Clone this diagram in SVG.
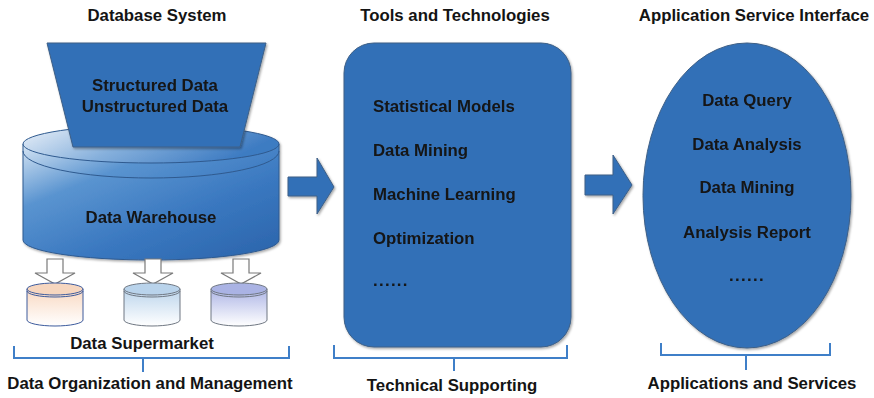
<svg xmlns="http://www.w3.org/2000/svg" width="874" height="398" viewBox="0 0 874 398">
  <style>
    .txt { font-family: "Liberation Sans", Arial, sans-serif; font-weight: bold; font-size: 16.8px; fill: #141414; }
    .mid { text-anchor: middle; }
    .blue { fill: #3370b7; stroke: #3d5f86; stroke-width: 1; }
    .brace { fill: none; stroke: #3f7fc8; stroke-width: 2; }
    .hollow { fill: #ffffff; stroke: #7a7a7a; stroke-width: 1.2; }
    .dots { letter-spacing: 1.3px; }
  </style>
  <defs>
    <filter id="shadow" x="-10%" y="-10%" width="125%" height="125%">
      <feDropShadow dx="1.2" dy="1.5" stdDeviation="1.2" flood-color="#000" flood-opacity="0.35"/>
    </filter>
    <linearGradient id="warehouseSide" x1="0" y1="0" x2="0.9" y2="1">
      <stop offset="0" stop-color="#d6e5f4"/>
      <stop offset="0.3" stop-color="#5a94d0"/>
      <stop offset="0.65" stop-color="#3a78c0"/>
      <stop offset="1" stop-color="#2c66ad"/>
    </linearGradient>
    <linearGradient id="warehouseTop" x1="0" y1="0" x2="1" y2="0.3">
      <stop offset="0" stop-color="#eef3fa"/>
      <stop offset="0.5" stop-color="#86b0dc"/>
      <stop offset="1" stop-color="#3d7bc2"/>
    </linearGradient>
    <linearGradient id="martOrange" x1="0" y1="0" x2="0" y2="1">
      <stop offset="0" stop-color="#f9d9c2"/>
      <stop offset="1" stop-color="#ffffff"/>
    </linearGradient>
    <linearGradient id="martBlue" x1="0" y1="0" x2="0" y2="1">
      <stop offset="0" stop-color="#bcd5ec"/>
      <stop offset="1" stop-color="#ffffff"/>
    </linearGradient>
    <linearGradient id="martViolet" x1="0" y1="0" x2="0" y2="1">
      <stop offset="0" stop-color="#aeb6e6"/>
      <stop offset="1" stop-color="#ffffff"/>
    </linearGradient>
  </defs>

  <!-- column headings -->
  <text class="txt mid" x="157" y="21">Database System</text>
  <text class="txt mid" x="455" y="21">Tools and Technologies</text>
  <text class="txt mid" x="754" y="21">Application Service Interface</text>

  <!-- data warehouse cylinder -->
  <g id="warehouse" filter="url(#shadow)">
    <path d="M23,144 L23,240 A128,20 0 0 0 279,240 L279,144 Z" fill="url(#warehouseSide)" stroke="#2f5a8f" stroke-width="1"/>
    <ellipse cx="151" cy="144" rx="128" ry="19" fill="url(#warehouseTop)" stroke="#2f5a8f" stroke-width="1"/>
    <path d="M23,151 A128,27 0 0 0 279,151" fill="none" stroke="#2f5a8f" stroke-width="1"/>
    <text class="txt mid" x="151" y="223">Data Warehouse</text>
  </g>

  <!-- incoming data hopper -->
  <g id="sources" filter="url(#shadow)">
    <polygon class="blue" points="47,43 266,43 240,147 73,147"/>
    <text class="txt mid" x="155" y="91">Structured Data</text>
    <text class="txt mid" x="155" y="112">Unstructured Data</text>
  </g>

  <!-- data marts -->
  <g id="mart1">
    <path class="hollow" d="M47,259 L63,259 L63,273 L75,273 L55,284 L35,273 L47,273 Z"/>
    <path d="M27,289 L27,320 A28,6 0 0 0 83,320 L83,289 Z" fill="url(#martOrange)" stroke="#3c5a9c" stroke-width="1"/>
    <ellipse cx="55" cy="289" rx="28" ry="6" fill="#f6d6bf" stroke="#3c5a9c" stroke-width="1"/>
    <path d="M27,291 A28,6 0 0 0 83,291" fill="none" stroke="#3c5a9c" stroke-width="1"/>
  </g>
  <g id="mart2">
    <path class="hollow" d="M145,259 L161,259 L161,273 L173,273 L153,284 L133,273 L145,273 Z"/>
    <path d="M124,289 L124,320 A28,6 0 0 0 180,320 L180,289 Z" fill="url(#martBlue)" stroke="#6f7782" stroke-width="1"/>
    <ellipse cx="152" cy="289" rx="28" ry="6" fill="#b9d3eb" stroke="#6f7782" stroke-width="1"/>
    <path d="M124,291 A28,6 0 0 0 180,291" fill="none" stroke="#6f7782" stroke-width="1"/>
  </g>
  <g id="mart3">
    <path class="hollow" d="M233,259 L249,259 L249,273 L261,273 L241,284 L221,273 L233,273 Z"/>
    <path d="M211,289 L211,320 A28,6 0 0 0 267,320 L267,289 Z" fill="url(#martViolet)" stroke="#6f7782" stroke-width="1"/>
    <ellipse cx="239" cy="289" rx="28" ry="6" fill="#aab3e4" stroke="#6f7782" stroke-width="1"/>
    <path d="M211,291 A28,6 0 0 0 267,291" fill="none" stroke="#6f7782" stroke-width="1"/>
  </g>
  <text class="txt mid" x="142" y="349">Data Supermarket</text>

  <!-- tools panel -->
  <g id="tools" filter="url(#shadow)">
    <rect class="blue" x="344" y="43" width="227" height="304" rx="30" ry="30"/>
    <text class="txt" x="373" y="112">Statistical Models</text>
    <text class="txt" x="373" y="156">Data Mining</text>
    <text class="txt" x="373" y="200">Machine Learning</text>
    <text class="txt" x="373" y="244">Optimization</text>
    <text class="txt dots" x="373" y="286">......</text>
  </g>

  <!-- application services -->
  <g id="services" filter="url(#shadow)">
    <ellipse class="blue" cx="747" cy="195.5" rx="104" ry="152.5"/>
    <text class="txt mid" x="747" y="106">Data Query</text>
    <text class="txt mid" x="747" y="150">Data Analysis</text>
    <text class="txt mid" x="747" y="193">Data Mining</text>
    <text class="txt mid" x="747" y="238">Analysis Report</text>
    <text class="txt mid dots" x="747" y="281">......</text>
  </g>

  <!-- flow arrows and group brackets -->
  <g id="connectors">
    <polygon class="blue" filter="url(#shadow)" points="288,177 317,177 317,158 334,187 317,214 317,196 288,196"/>
    <polygon class="blue" filter="url(#shadow)" points="585,175 613,175 613,155 632,185 613,214 613,195 585,195"/>
    <path class="brace" d="M14,346 L14,358 L289,358 L289,346 M143,358 L143,372"/>
    <path class="brace" d="M334,345 L334,358 L567,358 L567,345 M454,358 L454,371"/>
    <path class="brace" d="M661,343 L661,355 L830,355 L830,343 M746,355 L746,370"/>
  </g>

  <!-- bottom captions -->
  <text class="txt mid" x="150" y="389">Data Organization and Management</text>
  <text class="txt mid" x="452" y="391">Technical Supporting</text>
  <text class="txt mid" x="752" y="389">Applications and Services</text>
</svg>
